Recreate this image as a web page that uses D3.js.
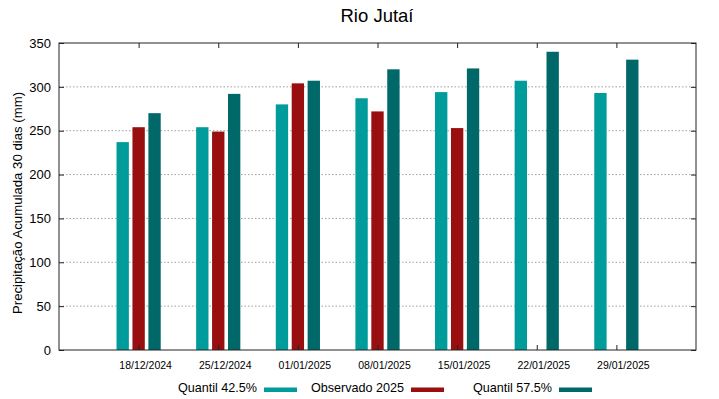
<!DOCTYPE html>
<html lang="pt">
<head>
<meta charset="UTF-8">
<title>Rio Jutaí</title>
<script src="https://cdn.jsdelivr.net/npm/d3@7"></script>
<style>
    body { margin: 0; background: #fff; }
    svg { font-family: "Liberation Sans", Arial, sans-serif; }
</style>
</head>
<body>
<div id="chart"></div>
<script>
// values
const dates = ['18/12/2024', '25/12/2024', '01/01/2025', '08/01/2025', '15/01/2025', '22/01/2025', '29/01/2025']
const q425 = [237, 254, 280, 287, 294, 307, 293]
const obs2025 = [254, 249, 304, 272, 253, null, null]
const q575 = [270, 292, 307, 320, 321, 340, 331]
const yTicks = [0, 50, 100, 150, 200, 250, 300, 350]

const series = [
    { name: 'Quantil 42.5%', values: q425, color: '#009b9b', off: -0.2 },
    { name: 'Observado 2025', values: obs2025, color: '#990e0e', off: 0 },
    { name: 'Quantil 57.5%', values: q575, color: '#006868', off: 0.2 }
]

const w = 719, h = 399
const m = { left: 59, right: 23, top: 43, bottom: 49 }

const svg = d3.select('#chart').append('svg')
    .attr('width', w)
    .attr('height', h)

const x = d3.scaleLinear().domain([-1, 7]).range([m.left, w - m.right])
const y = d3.scaleLinear().domain([0, 350]).range([h - m.bottom, m.top])
const bw = x(0.155) - x(0)

// dotted grid
svg.append('g')
    .selectAll('line')
    .data(yTicks.slice(1, -1))
    .join('line')
    .attr('x1', m.left).attr('x2', w - m.right)
    .attr('y1', d => y(d)).attr('y2', d => y(d))
    .attr('stroke', '#a0a0a0')
    .attr('stroke-width', 1)
    .attr('stroke-dasharray', '1.5,2')

// bars
series.forEach(s => {
    svg.append('g')
        .selectAll('rect')
        .data(s.values.map((v, i) => ({ i, v })).filter(d => d.v != null))
        .join('rect')
        .attr('x', d => x(d.i + s.off) - bw / 2)
        .attr('y', d => y(d.v))
        .attr('width', bw)
        .attr('height', d => y(0) - y(d.v))
        .attr('fill', s.color)
})

// axes (gnuplot style: inward ticks, mirrored)
const axLeft = d3.axisLeft(y).tickValues(yTicks).tickSizeInner(-5).tickSizeOuter(0).tickPadding(8)
const axRight = d3.axisRight(y).tickValues(yTicks).tickSizeInner(-5).tickSizeOuter(0).tickFormat('')
const axBottom = d3.axisBottom(x).tickValues(d3.range(dates.length)).tickFormat(i => dates[i])
    .tickSizeInner(-5).tickSizeOuter(0).tickPadding(12)
const axTop = d3.axisTop(x).tickValues(d3.range(dates.length)).tickFormat('').tickSizeInner(-5).tickSizeOuter(0)

svg.append('g').attr('transform', `translate(${m.left},0)`).call(axLeft)
    .call(g => g.selectAll('text').attr('font-size', 13).attr('fill', '#000'))
svg.append('g').attr('transform', `translate(${w - m.right},0)`).call(axRight)
svg.append('g').attr('transform', `translate(0,${h - m.bottom})`).call(axBottom)
    .call(g => g.selectAll('text').attr('font-size', 10.5).attr('fill', '#000').attr('dx', 6.5))
svg.append('g').attr('transform', `translate(0,${m.top})`).call(axTop)
svg.selectAll('.domain').remove()
svg.selectAll('.tick line').attr('stroke', '#222')

// frame
svg.append('rect')
    .attr('x', m.left).attr('y', m.top)
    .attr('width', w - m.left - m.right).attr('height', h - m.top - m.bottom)
    .attr('fill', 'none').attr('stroke', '#222').attr('stroke-width', 1)

// title
svg.append('text')
    .attr('x', 377).attr('y', 22)
    .attr('text-anchor', 'middle')
    .attr('font-size', 18.5)
    .text('Rio Jutaí')

// y label
svg.append('text')
    .attr('transform', `translate(21.5,203) rotate(-90)`)
    .attr('text-anchor', 'middle')
    .attr('font-size', 13.2)
    .text('Precipitação Acumulada 30 dias (mm)')

// legend
const legX = [257, 404, 552]
const leg = svg.append('g')
series.forEach((s, i) => {
    leg.append('text')
        .attr('x', legX[i]).attr('y', 392)
        .attr('text-anchor', 'end')
        .attr('font-size', 12.6)
        .text(s.name)
    leg.append('rect')
        .attr('x', legX[i] + 7).attr('y', 387.5)
        .attr('width', 33).attr('height', 4.5)
        .attr('fill', s.color)
})
</script>
</body>
</html>
